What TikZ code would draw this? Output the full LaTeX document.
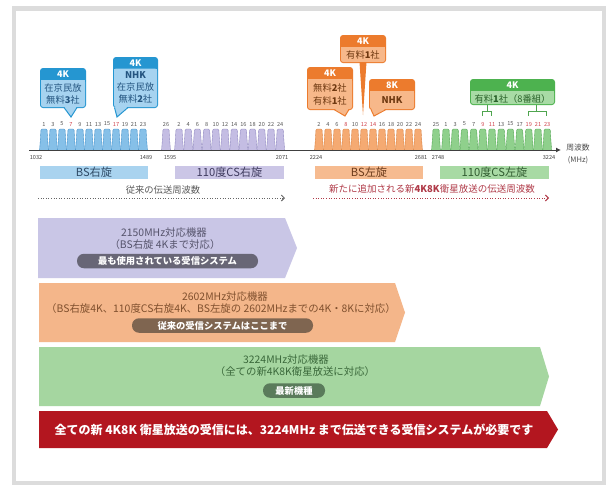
\documentclass[tikz,border=0pt]{standalone}
\usepackage{fontspec}
\setmainfont{Noto Sans CJK JP}
\usetikzlibrary{arrows.meta}
\definecolor{framegray}{HTML}{DCDCDC}
\definecolor{humpB}{HTML}{86C0E8}\definecolor{humpBd}{HTML}{3F8FC9}
\definecolor{humpP}{HTML}{C4BDE3}\definecolor{humpPd}{HTML}{8E86BF}
\definecolor{humpO}{HTML}{F5AA72}\definecolor{humpOd}{HTML}{D9803F}
\definecolor{humpG}{HTML}{8FD08C}\definecolor{humpGd}{HTML}{4FA54F}
\definecolor{barB}{HTML}{A9D3EF}\definecolor{barP}{HTML}{CBC6E6}
\definecolor{barO}{HTML}{F6BB90}\definecolor{barG}{HTML}{A8DAA4}
\definecolor{cbHeadB}{HTML}{2596D1}\definecolor{cbBodyB}{HTML}{A6D3F0}
\definecolor{cbHeadO}{HTML}{EC7B2D}\definecolor{cbBodyO}{HTML}{F7B88A}
\definecolor{cbHeadG}{HTML}{4DB24F}\definecolor{cbBodyG}{HTML}{A8DBA5}
\definecolor{bandP}{HTML}{C9C6E6}\definecolor{bandO}{HTML}{F4B68A}
\definecolor{bandG}{HTML}{A5D6A0}\definecolor{bandR}{HTML}{B3161F}
\definecolor{pillP}{HTML}{686676}\definecolor{pillO}{HTML}{7F6550}
\definecolor{pillG}{HTML}{5A7B5B}
\definecolor{txtP}{HTML}{55536B}\definecolor{txtO}{HTML}{80502E}
\definecolor{txtG}{HTML}{3A683A}\definecolor{redtext}{HTML}{B03A48}
\definecolor{cnum}{HTML}{555555}\definecolor{cred}{HTML}{D0404A}
\definecolor{ctxtB}{HTML}{245580}\definecolor{ctxtO}{HTML}{6E3810}
\definecolor{ctxtG}{HTML}{2A622A}
\definecolor{bartxtB}{HTML}{2E4A66}\definecolor{bartxtP}{HTML}{3E3A5E}
\definecolor{bartxtO}{HTML}{6B3A1A}\definecolor{bartxtG}{HTML}{2F5A2F}

\newcommand\chhump[6]{%
  \draw[fill=#2,draw=#3,line width=0.35pt,rounded corners=1.2pt]
    (#1-4.4,150) -- (#1-3.6,139) -- (#1-3,129) -- (#1+3,129) -- (#1+3.6,139) -- (#1+4.4,150);
  \node[chnum,text=#5] (#6) at (#1,124) {#4};
}
\newcommand\callbox[7]{%
  \fill[#6,rounded corners=3pt] (#1,#2) rectangle (#3,#4);
  \fill[#7,rounded corners=2.2pt] (#1+1,#5) rectangle (#3-1,#4-1);
  \fill[#7] (#1+1,#5) rectangle (#3-1,#5+4);
}
\newcommand\cpointer[7]{%
  \fill[#7] (#1,#3-1.5) -- (#4,#5) -- (#2,#3-1.5) -- cycle;
  \draw[#6,line width=1pt] (#1,#3-0.5) -- (#4,#5) -- (#2,#3-0.5);
}

\begin{document}
\begin{tikzpicture}[x=1pt,y=-1pt,
  chnum/.style={font=\fontsize{5.6}{6}\selectfont,inner sep=0},
  freq/.style={font=\fontsize{5.6}{6}\selectfont,text=black!75,inner sep=0},
  barlbl/.style={font=\fontsize{11.2}{12}\selectfont,inner sep=0,minimum height=13pt},
  cbtext/.style={font=\fontsize{9.3}{10}\selectfont,inner sep=0},
  cbhead/.style={font=\bfseries\fontsize{9}{10}\selectfont,text=white,inner sep=0},
  bandtxt/.style={font=\fontsize{10.4}{11}\selectfont,inner sep=0},
  pill/.style={rounded corners=7pt,minimum height=14.5pt,inner sep=0,text=white,font=\bfseries\fontsize{9.3}{10}\selectfont},
  dotarrow/.style={dotted,line width=0.6pt,-{Straight Barb[length=3pt,width=6pt,line width=1pt]}}
]
\useasboundingbox (0,0) rectangle (607,485);
\fill[white] (0,0) rectangle (607,485);
\draw[framegray,line width=4.5pt] (14,8.5) rectangle (604,483);

% ---- humps ----
\foreach \n/\c [count=\i from 0] in {1/cnum,3/cnum,5/cnum,7/cred,9/cnum,11/cnum,13/cnum,15/cnum,17/cred,19/cnum,21/cnum,23/cnum}{
  \pgfmathsetmacro\xx{44+9*\i}
  \chhump{\xx}{humpB}{humpBd}{\n}{\c}{cb\n}
}
\chhump{166}{humpP}{humpPd}{26}{cnum}{cp26}
\foreach \n [count=\i from 0] in {2,4,...,24}{
  \pgfmathsetmacro\xx{179+9.2*\i}
  \chhump{\xx}{humpP}{humpPd}{\n}{cnum}{cp\n}
}
\foreach \n/\c [count=\i from 0] in {2/cnum,4/cnum,6/cnum,8/cred,10/cnum,12/cred,14/cred,16/cnum,18/cnum,20/cnum,22/cnum,24/cnum}{
  \pgfmathsetmacro\xx{319+9*\i}
  \chhump{\xx}{humpO}{humpOd}{\n}{\c}{co\n}
}
\chhump{436}{humpG}{humpGd}{25}{cnum}{cg25}
\foreach \n/\c [count=\i from 0] in {1/cnum,3/cnum,5/cnum,7/cnum,9/cred,11/cred,13/cnum,15/cnum,17/cnum,19/cred,21/cred,23/cred}{
  \pgfmathsetmacro\xx{446+9.2*\i}
  \chhump{\xx}{humpG}{humpGd}{\n}{\c}{cg\n}
}

% ---- axis ----
\coordinate (axL) at (29,150);
\coordinate (axR) at (561,150);
\draw[black!75,line width=1pt,-{Latex[length=5pt,width=5pt]}] (axL) -- (axR);
\node[font=\fontsize{7.8}{8}\selectfont,text=black!70,inner sep=0] (axlbl1) at (578,148) {周波数};
\node[font=\fontsize{7.5}{8}\selectfont,text=black!70,inner sep=0] (axlbl2) at (578,160) {(MHz)};

\node[freq] (f1032) at (36,157) {1032};
\node[freq] (f1489) at (146,157) {1489};
\node[freq] (f1595) at (170,157) {1595};
\node[freq] (f2071) at (282,157) {2071};
\node[freq] (f2224) at (316,157) {2224};
\node[freq] (f2681) at (421,157) {2681};
\node[freq] (f2748) at (438,157) {2748};
\node[freq] (f3224) at (549,157) {3224};

% ---- bars ----
\node[barlbl,fill=barB,text=bartxtB,minimum width=108pt] (barBSR) at (94,172.5) {BS右旋};
\node[barlbl,fill=barP,text=bartxtP,minimum width=109pt] (barCSR) at (229.5,172.5) {110度CS右旋};
\node[barlbl,fill=barO,text=bartxtO,minimum width=108pt] (barBSL) at (369,172.5) {BS左旋};
\node[barlbl,fill=barG,text=bartxtG,minimum width=109pt] (barCSL) at (494.5,172.5) {110度CS左旋};

\node[font=\fontsize{9.3}{10}\selectfont,text=black!65,inner sep=0] (oldfreq) at (163,190) {従来の伝送周波数};
\coordinate (d1a) at (38,198); \coordinate (d1b) at (285,198);
\draw[dotarrow,black!60] (d1a) -- (d1b);
\node[font=\fontsize{9.5}{10}\selectfont,text=redtext,inner sep=0] (newfreq) at (432,189) {新たに追加される新\textbf{4K8K}衛星放送の伝送周波数};
\coordinate (d2a) at (313,198); \coordinate (d2b) at (549,198);
\draw[dotarrow,redtext] (d2a) -- (d2b);

% ---- callouts ----
% blue 1
\callbox{40}{68}{86}{108}{80}{cbHeadB}{cbBodyB}
\cpointer{64}{77}{108}{71}{117}{cbHeadB}{cbBodyB}
\node[cbhead] (b1h) at (63,74) {4K};
\node[cbtext,text=ctxtB] (b1a) at (63,88) {在京民放};
\node[cbtext,text=ctxtB] (b1b) at (63,100) {無料\textbf{3}社};
% blue 2
\callbox{113}{57}{158}{108}{68.5}{cbHeadB}{cbBodyB}
\cpointer{114.5}{128}{108}{117}{117}{cbHeadB}{cbBodyB}
\node[cbhead] (b2h) at (135.5,62.8) {4K};
\node[cbtext,text=ctxtB,font=\bfseries\fontsize{9.3}{10}\selectfont] (b2a) at (135.5,75) {NHK};
\node[cbtext,text=ctxtB] (b2b) at (135.5,87) {在京民放};
\node[cbtext,text=ctxtB] (b2c) at (135.5,99) {無料\textbf{2}社};
% orange A
\callbox{307}{67}{353}{110}{79}{cbHeadO}{cbBodyO}
\cpointer{334}{349}{110}{345}{116}{cbHeadO}{cbBodyO}
\node[cbhead] (oAh) at (330,73) {4K};
\node[cbtext,text=ctxtO] (oAa) at (330,88) {無料\textbf{2}社};
\node[cbtext,text=ctxtO] (oAb) at (330,101) {有料\textbf{1}社};
% orange B
\callbox{340}{35}{386}{63}{47}{cbHeadO}{cbBodyO}
\fill[cbHeadO] (359.5,62) -- (363,115) -- (366.5,62) -- cycle;
\node[cbhead] (oBh) at (363,41) {4K};
\node[cbtext,text=ctxtO] (oBa) at (363,55) {有料\textbf{1}社};
% orange C
\callbox{369}{79}{415}{110}{91}{cbHeadO}{cbBodyO}
\cpointer{371}{386}{110}{374}{116}{cbHeadO}{cbBodyO}
\node[cbhead] (oCh) at (392,85) {8K};
\node[cbtext,text=ctxtO,font=\bfseries\fontsize{9.3}{10}\selectfont] (oCa) at (392,100.5) {NHK};
% green
\callbox{470}{79}{555}{105}{91}{cbHeadG}{cbBodyG}
\node[cbhead] (gh) at (512.5,85) {4K};
\node[cbtext,text=ctxtG] (ga) at (512.5,98.5) {有料\textbf{1}社（8番組）};
\coordinate (gs1) at (487,105); \coordinate (gs1b) at (487,111);
\coordinate (gs2) at (536,105); \coordinate (gs2b) at (536,111);
\draw[humpGd,line width=0.9pt] (gs1) -- (gs1b);
\draw[humpGd,line width=0.9pt] (482.5,116) -- (482.5,111) -- (491.5,111) -- (491.5,116);
\draw[humpGd,line width=0.9pt] (gs2) -- (gs2b);
\draw[humpGd,line width=0.9pt] (528.5,116) -- (528.5,111) -- (546.5,111) -- (546.5,116);

% ---- bands ----
\fill[bandP] (38,218) -- (285,218) -- (297,248) -- (285,278) -- (38,278) -- cycle;
\node[bandtxt,text=txtP] (p1) at (164,233) {2150MHz対応機器};
\node[bandtxt,text=txtP] (p2) at (165,244.5) {（BS右旋 4Kまで対応）};
\node[pill,fill=pillP,minimum width=181pt] (p3) at (167.5,261) {最も使用されている受信システム};

\fill[bandO] (39,283) -- (395,283) -- (405,312.5) -- (395,342) -- (39,342) -- cycle;
\node[bandtxt,text=txtO] (o1) at (225,297) {2602MHz対応機器};
\node[bandtxt,text=txtO] (o2) at (221,309) {（BS右旋4K、110度CS右旋4K、BS左旋の 2602MHzまでの4K・8Kに対応）};
\node[pill,fill=pillO,minimum width=181pt] (o3) at (222.5,325.5) {従来の受信システムはここまで};

\fill[bandG] (39,347) -- (540,347) -- (549,376.5) -- (540,406) -- (39,406) -- cycle;
\node[bandtxt,text=txtG] (g1) at (286,360) {3224MHz対応機器};
\node[bandtxt,text=txtG] (g2) at (295,372) {（全ての新4K8K衛星放送に対応）};
\node[pill,fill=pillG,minimum width=62pt] (g3) at (294,390.5) {最新機種};

\fill[bandR] (39,411) -- (547,411) -- (558,429.5) -- (547,448) -- (39,448) -- cycle;
\node[font=\bfseries\fontsize{12}{13}\selectfont,text=white,inner sep=0] (r1) at (294,430) {全ての新 4K8K 衛星放送の受信には、3224MHz まで伝送できる受信システムが必要です};
\end{tikzpicture}
\end{document}
